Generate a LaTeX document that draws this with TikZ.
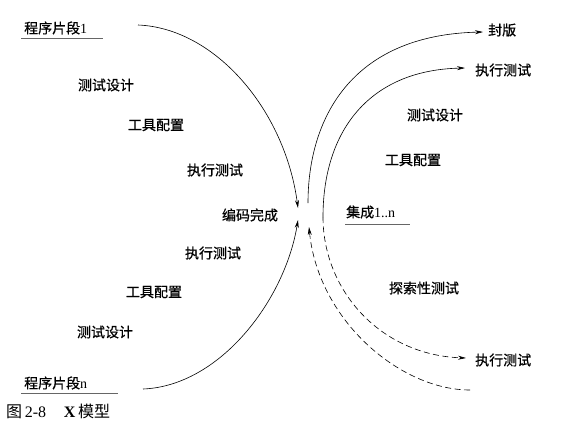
\documentclass[tikz,border=0pt]{standalone}
\usepackage{fontspec}
\setmainfont{Liberation Serif}
\newfontfamily\cjk{Noto Sans CJK SC}
\newfontfamily\cjkheavy[FakeBold=0.6]{Noto Sans CJK SC}
\usetikzlibrary{arrows.meta}

\begin{document}
\begin{tikzpicture}[x=1pt,y=-1pt,
	tag/.style={font=\cjkheavy\fontsize{14}{16}\selectfont,inner sep=0pt},
	flow/.style={line width=0.6pt,-{Stealth[length=8pt,width=4pt]}},
	loose/.style={flow,dash pattern=on 6pt off 3.5pt},
	bar/.style={line width=1pt,black!60}]
	
	\useasboundingbox (0,0) rectangle (576,440);
	
	% left side
	\node(prog1) [tag,anchor=west] at (24,28) {程序片段{\rmfamily 1}};
	\draw[bar] (21,38) -- (103,38);
	
	\node(designA) [tag] at (106,85) {测试设计};
	
	\node(toolsA) [tag] at (156,125) {工具配置};
	
	\node(runA) [tag] at (215,170) {执行测试};
	
	\node(coded) [tag] at (250,215) {编码完成};
	
	\node(runB) [tag] at (213,253) {执行测试};
	
	\node(toolsB) [tag] at (154,292) {工具配置};
	
	\node(designB) [tag] at (105,332) {测试设计};
	
	\node(progn) [tag,anchor=west] at (24,383) {程序片段{\rmfamily n}};
	\draw[bar] (21,393) -- (118,393);
	
	% right side
	\node(release) [tag,anchor=west] at (488,30) {封版};
	
	\node(runC) [tag,anchor=west] at (475,70) {执行测试};
	
	\node(designC) [tag] at (435,115) {测试设计};
	
	\node(toolsC) [tag] at (413,160) {工具配置};
	
	\node(build) [tag,anchor=west] at (346,212) {集成{\rmfamily 1..n}};
	\draw[bar] (345,224) -- (410,224);
	
	\node(explore) [tag] at (424,288) {探索性测试};
	
	\node(runD) [tag,anchor=west] at (475,360) {执行测试};
	
	\node(caption) [anchor=west,inner sep=0pt,font=\fontsize{16}{18}\selectfont] at (6,411) {{\cjk 图}\,2-8\hspace{1.1em}\textbf{X}\,{\cjk 模型}};
	
	% curve ends
	\coordinate (s1) at (138,25);
	\coordinate (m1) at (298,208);
	\coordinate (sn) at (143,389);
	\coordinate (mn) at (298,220);
	\coordinate (o1) at (308,203);
	\coordinate (e1) at (483,32);
	\coordinate (i1) at (323,217);
	\coordinate (e2) at (465,68);
	\coordinate (e3) at (466,358);
	\coordinate (o2) at (470,390);
	\coordinate (m2) at (309,227);
	
	\draw[flow] (s1) .. controls (215,28) and (285,110) .. (m1);
	
	\draw[flow] (sn) .. controls (220,386) and (285,300) .. (mn);
	
	\draw[flow] (o1) .. controls (308,120) and (350,35) .. (e1);
	
	\draw[flow] (i1) .. controls (323,130) and (370,70) .. (e2);
	
	\draw[loose] (i1) .. controls (323,290) and (380,355) .. (e3);
	
	\draw[loose] (o2) .. controls (400,390) and (318,320) .. (m2);
	
\end{tikzpicture}
\end{document}
